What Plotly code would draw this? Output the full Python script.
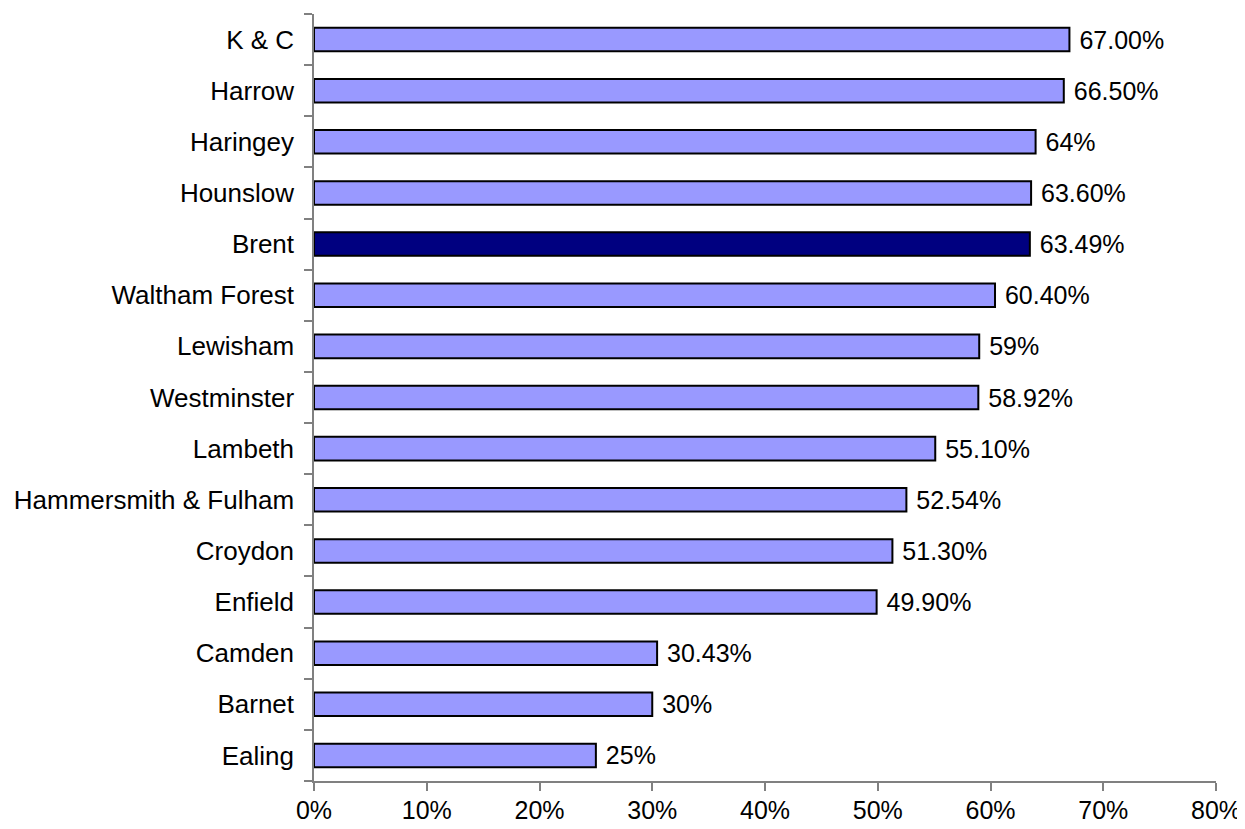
import plotly.graph_objects as go

boroughs = ["K & C", "Harrow", "Haringey", "Hounslow", "Brent", "Waltham Forest",
            "Lewisham", "Westminster", "Lambeth", "Hammersmith & Fulham", "Croydon",
            "Enfield", "Camden", "Barnet", "Ealing"]
values = [67.00, 66.50, 64, 63.60, 63.49, 60.40, 59, 58.92, 55.10, 52.54, 51.30,
          49.90, 30.43, 30, 25]
labels = ["67.00%", "66.50%", "64%", "63.60%", "63.49%", "60.40%", "59%", "58.92%",
          "55.10%", "52.54%", "51.30%", "49.90%", "30.43%", "30%", "25%"]
highlight = "Brent"
x_ticks = [0, 10, 20, 30, 40, 50, 60, 70, 80]
x_tick_text = ["0%", "10%", "20%", "30%", "40%", "50%", "60%", "70%", "80%"]

colors = ["#000080" if b == highlight else "#9999FF" for b in boroughs]
FONT = "Arial, Liberation Sans, sans-serif"

fig = go.Figure(go.Bar(
    y=boroughs, x=values, orientation="h",
    marker=dict(color=colors, line=dict(color="black", width=2)),
    text=["\u00a0" + t for t in labels], textposition="outside",
    textfont=dict(family=FONT, size=25, color="black"),
    constraintext="none",
    cliponaxis=False, width=0.46,
))

fig.update_layout(
    width=1237, height=821,
    margin=dict(l=306, r=29, t=6, b=48, autoexpand=False),
    plot_bgcolor="white", paper_bgcolor="white",
    font=dict(family=FONT, size=25, color="black"),
    showlegend=False,
    xaxis=dict(range=[0, 80], tickvals=x_ticks, ticktext=x_tick_text,
               showgrid=False, zeroline=False, showline=True, linecolor="#808080",
               linewidth=1.5, ticks="outside", ticklen=8, tickcolor="#808080",
               tickwidth=1.5, automargin=False, tickfont=dict(size=25),
               ticklabelstandoff=-2),
    yaxis=dict(categoryorder="array", categoryarray=boroughs[::-1],
               range=[-0.5, len(boroughs) - 0.5],
               showgrid=False, zeroline=False, showline=True, linecolor="#808080",
               linewidth=1.5, ticks="outside", ticklen=8, tickcolor="#808080",
               tickwidth=1.5, tickson="boundaries", ticklabelstandoff=13,
               automargin=False, tickfont=dict(size=26)),
)

fig.write_html("out.html")
